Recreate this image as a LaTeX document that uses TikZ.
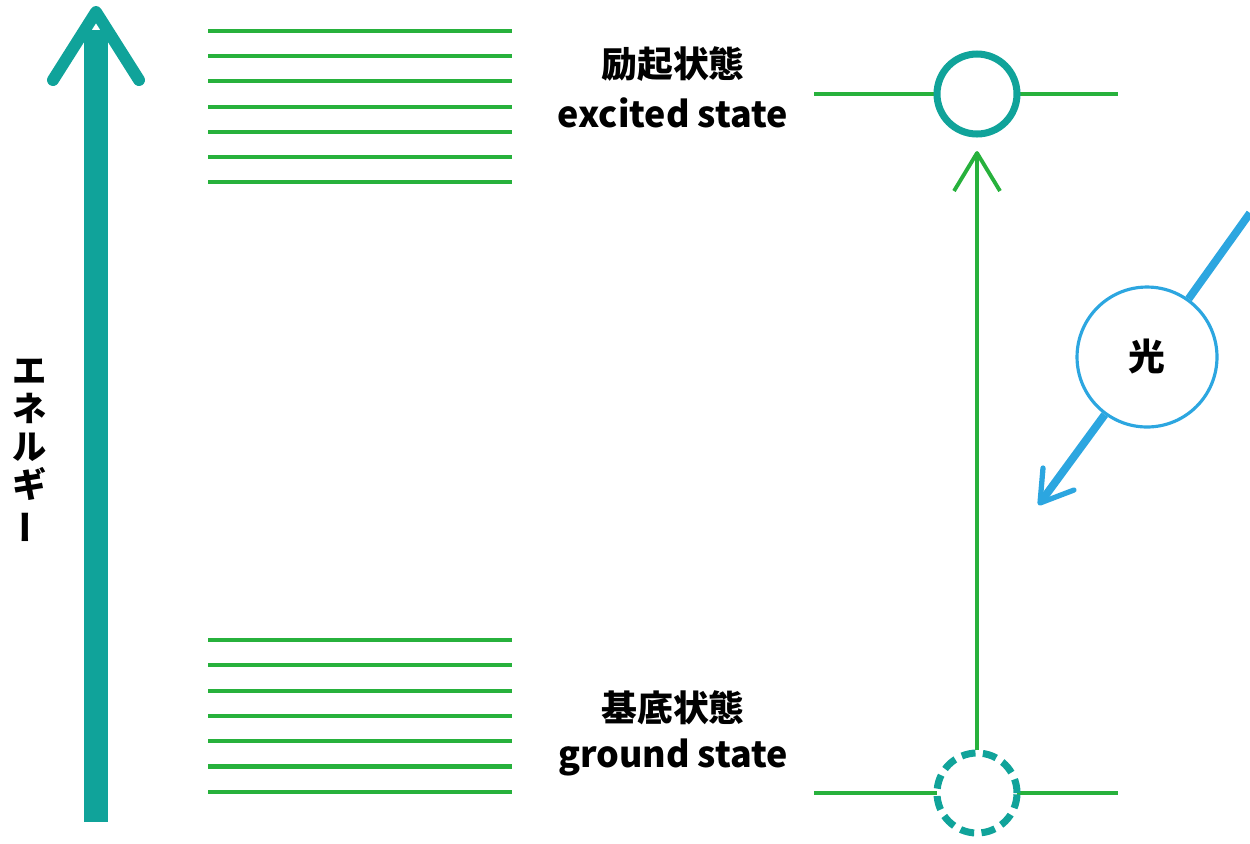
\documentclass[tikz,border=0pt]{standalone}
\usepackage{fontspec}
\usetikzlibrary{calc}
\newfontfamily\jp{Noto Sans CJK JP}
\definecolor{tealc}{HTML}{10A39A}
\definecolor{greenc}{HTML}{27B13C}
\definecolor{bluec}{HTML}{2CA6E0}
\tikzset{
  lvl/.style={draw=greenc, line width=2.3pt},
  eshaft/.style={draw=tealc, line width=13.6pt},
  ehead/.style={draw=tealc, line width=6.8pt, line cap=round, line join=round},
  state/.style={circle, draw=tealc, line width=4pt, fill=white, minimum size=1.6cm, inner sep=0pt},
  lbl/.style={font=\jp\bfseries\fontsize{20.4}{24}\selectfont, align=center, inner sep=0pt},
  trans/.style={draw=greenc, line width=2.2pt, line join=round},
  lightc/.style={circle, draw=bluec, line width=1.8pt, fill=white, minimum size=2.8cm, inner sep=0pt, font=\jp\bfseries\fontsize{21}{21}\selectfont},
  ray/.style={draw=bluec, line width=4.5pt},
  rayhead/.style={draw=bluec, line width=3pt, line join=round, line cap=round},
}
\begin{document}
\begin{tikzpicture}[x=0.02cm,y=-0.02cm]
\useasboundingbox (0,0) rectangle (1250,843);
% energy axis
\coordinate (ebot) at (96,822);
\coordinate (etop) at (96,12);
\coordinate (ew1) at (53,80);
\coordinate (ew2) at (139,80);
\coordinate (eshaftend) at (96,30);
\draw[eshaft] (ebot) -- (eshaftend);
\draw[ehead] (ew1) -- (etop) -- (ew2);
\node[font=\jp\bfseries\fontsize{19.5}{21.6}\selectfont, align=center, inner sep=0pt] (energy) at (30,452)
  {エ\\ネ\\ル\\ギ\\\rotatebox[origin=c]{90}{ー}};
% vibrational levels
\foreach \i in {0,...,6}{
  \coordinate (ua\i) at (208,31+25.2*\i);
  \coordinate (ub\i) at (512,31+25.2*\i);
  \draw[lvl] (ua\i) -- (ub\i);
  \coordinate (la\i) at (208,640+25.3*\i);
  \coordinate (lb\i) at (512,640+25.3*\i);
  \draw[lvl] (la\i) -- (lb\i);
}
% labels
\node[lbl] (exj) at (673,64) {励起状態};
\node[lbl] (exe) at (673,113) {excited state};
\node[lbl] (grj) at (673,708) {基底状態};
\node[lbl] (gre) at (673,757) {ground state};
% levels
\coordinate (xl) at (814,94);
\coordinate (xr) at (1118,94);
\coordinate (gl) at (814,793);
\coordinate (gr) at (1118,793);
\draw[lvl] (xl) -- (xr);
\draw[lvl] (gl) -- (gr);
\node[state] (exc) at (977,94) {};
\node[state, dash pattern=on 8pt off 4.2pt] (gnd) at (977,793) {};
% transition arrow
\coordinate (ttip) at (977,153);
\coordinate (tw1) at (954,191);
\coordinate (tw2) at (1000,191);
\draw[trans] (gnd.north) -- (ttip);
\draw[trans] (tw1) -- (ttip) -- (tw2);
% light
\coordinate (ls) at (1250,213);
\coordinate (le) at (1040,503);
\coordinate (lw1) at (1043,468);
\coordinate (lw2) at (1074,490);
\node[lightc] (light) at (1147,357) {光};
\draw[ray] (ls) -- (light);
\draw[ray] (light) -- ($(le)!0.01!(light)$);
\draw[rayhead] (lw1) -- (le) -- (lw2);
\end{tikzpicture}
\end{document}
